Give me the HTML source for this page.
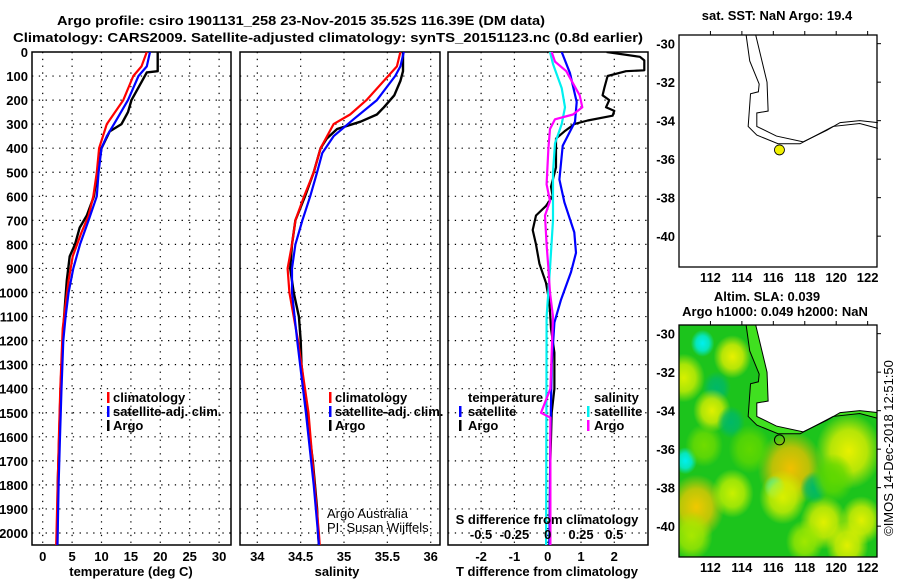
<!DOCTYPE html>
<html><head><meta charset="utf-8"><style>
html,body{margin:0;padding:0;background:#fff;}
svg{display:block;font-family:"Liberation Sans",sans-serif;}
.t{font-weight:bold;font-size:13px;fill:#000;}
</style></head><body>
<svg id="s" width="900" height="580" viewBox="0 0 900 580" xmlns="http://www.w3.org/2000/svg"></svg>
<script>
// ---------- data ----------
const depthTicks=[0,100,200,300,400,500,600,700,800,900,1000,1100,1200,1300,1400,1500,1600,1700,1800,1900,2000];
const tempTicks=[0,5,10,15,20,25,30];
const salTicks=[34,34.5,35,35.5,36];
const salTickLabels=["34","34.5","35","35.5","36"];
const tdiffTicks=[-2,-1,0,1,2];
const sdiffTicks=[-0.5,-0.25,0,0.25,0.5];
const sdiffTickLabels=["-0.5","-0.25","0","0.25","0.5"];
// temperature profiles
const tArgoDepth=[0,80,85,120,200,250,300,330,400,500,600,680,730,800,850,950,1050,1150,1200,1400,1600,1800,2000,2050];
const tArgo=[19.55,19.55,17.7,16.9,15.1,14.5,13.4,11.4,10.0,9.3,8.7,7.5,6.3,5.5,4.6,4.1,3.8,3.5,3.4,3.05,2.8,2.55,2.5,2.5];
const tClimDepth=[0,60,100,200,300,400,500,600,680,750,850,950,1050,1150,1400,1600,1800,2000,2050];
const tClim=[17.7,16.8,15.4,13.7,10.9,9.6,9.2,8.6,7.8,6.6,5.1,4.4,3.9,3.4,3.0,2.75,2.55,2.35,2.3];
const tSatDepth=[0,60,100,200,280,350,400,500,600,700,800,900,1000,1100,1200,1400,1600,1800,2000,2050];
const tSat=[18.25,17.7,16.3,14.5,12.6,10.9,10.0,9.5,9.2,7.8,6.35,5.2,4.4,3.9,3.5,3.2,2.95,2.7,2.55,2.5];
// salinity profiles
const sArgoDepth=[0,80,120,180,230,260,290,320,360,400,500,600,700,800,900,1000,1100,1200,1300,1500,1700,1900,2000,2050];
const sArgo=[35.68,35.68,35.65,35.58,35.46,35.38,35.19,34.92,34.8,34.73,34.65,34.55,34.44,34.4,34.38,34.42,34.48,34.5,34.51,34.57,34.64,34.69,34.7,34.71];
const sClimDepth=[0,60,100,200,260,300,400,500,600,700,800,900,1000,1100,1200,1500,1800,2000,2050];
const sClim=[35.65,35.61,35.51,35.26,35.07,34.88,34.73,34.65,34.54,34.44,34.4,34.35,34.37,34.42,34.47,34.59,34.66,34.71,34.72];
const sSatDepth=[0,60,100,200,280,350,420,500,600,700,800,900,1000,1100,1200,1500,1800,2000,2050];
const sSat=[35.69,35.65,35.59,35.38,35.11,34.88,34.75,34.69,34.61,34.52,34.44,34.4,34.4,34.43,34.46,34.56,34.65,34.7,34.71];
// difference profiles
const dTSatDepth=[0,88,208,290,390,530,625,750,835,915,1030,1125,1300,1600,2050];
const dTSat=[0.42,0.67,0.87,0.82,0.45,0.35,0.5,0.8,0.85,0.7,0.4,0.2,0.12,0.08,0.05];
const dTArgoDepth=[0,20,35,76,80,100,150,180,200,230,245,265,285,300,330,360,400,480,560,600,640,680,740,800,880,960,1040,1150,1250,1400,1500,1700,2050];
const dTArgo=[1.77,2.77,2.9,2.9,2.35,1.8,1.7,1.65,1.85,1.75,2.0,1.95,1.2,0.8,0.5,0.25,0.25,0.25,0.1,0.15,-0.05,-0.35,-0.45,-0.35,-0.25,-0.05,0.05,0.1,0.2,0.2,0.12,0.08,0.05];
const dSSatDepth=[0,50,150,230,300,380,500,700,900,1100,1500,2050];
const dSSat=[0.017,0.04,0.105,0.13,0.105,0.055,0.04,0.04,0.017,-0.008,-0.01,-0.012];
const dSArgoDepth=[0,40,80,140,180,230,260,280,320,400,550,620,680,800,900,1000,1100,1400,1500,1520,1600,2050];
const dSArgo=[0.03,0.055,0.14,0.2,0.24,0.26,0.19,0.055,0.017,0.005,-0.008,0.017,-0.02,-0.008,0.005,0.017,0.04,0.02,-0.05,0.02,0.02,0.02];
// map data
const mapLonTicks=[112,114,116,118,120,122];
const mapLatTicks=[-30,-32,-34,-36,-38,-40];
const coastLon=[114.88,115.6,115.67,114.95,114.95,116.2,117.9,119.4,120.25,121.5,122.65];
const coastLat=[-29.55,-32,-33.5,-33.6,-34.3,-34.8,-35.1,-34.5,-34.1,-34.0,-34.1];
const contourLon=[114.27,114.5,115.1,115.05,114.55,114.4,114.95,116.3,117.7,119.8,121.5,122.65];
const contourLat=[-29.55,-30.9,-32.1,-32.5,-32.6,-34.3,-34.75,-35.2,-35.2,-34.3,-34.15,-34.4];
const argoLon=116.39, argoLat=-35.52;
// SLA anomaly blobs (lon, lat, radius deg, colour)
const blobLon=[111.5,113.4,110.3,112.4,112.1,113.3,110.4,117.1,120.8,116.1,111.1,116.6,119.2,121.6,113.4,110.8,118.6,120.7,118.0,114.5,111.6,119.8];
const blobLat=[-30.5,-31.2,-32.3,-32.8,-34.0,-34.6,-36.6,-37.0,-36.1,-38.0,-39.0,-38.5,-39.8,-39.7,-38.3,-40.5,-38.0,-41.0,-40.8,-36.0,-35.8,-37.5];
const blobR=[0.5,0.8,0.9,0.6,0.8,0.6,0.5,1.4,1.4,0.45,1.2,1.0,1.0,0.9,0.9,0.9,0.6,0.9,0.8,0.9,0.8,0.9];
const blobCol=["#00f0f0","#e8f000","#d8f000","#00b868","#e0f000","#00b868","#00f0f0","#f0c000","#e8f000","#00f0f0","#f0c800","#d8f000","#e0f000","#e0f000","#c8f000","#a8e800","#00b868","#e0f000","#a0e800","#60d800","#70dc00","#60d800"];

// ---------- drawing ----------
const NS="http://www.w3.org/2000/svg";
const svg=document.getElementById('s');
function el(tag,attrs,parent){const e=document.createElementNS(NS,tag);for(const k in attrs)e.setAttribute(k,attrs[k]);(parent||svg).appendChild(e);return e;}
function txt(x,y,s,anchor,cls,parent,extra){const e=el('text',Object.assign({x:x,y:y,'text-anchor':anchor||'start',class:cls||'t'},extra||{}),parent);e.textContent=s;return e;}

const TOP=52, BOT=545, DPX=0.2405;
const yD=d=>TOP+d*DPX;
const xT=v=>42.7+v*5.88;
const xS=v=>257.3+(v-34)*86.7;
const xDT=v=>547.7+v*33.3;
const xDS=v=>547.7+v*133.2;

let t1=txt(57,25,"Argo profile: csiro 1901131_258 23-Nov-2015 35.52S 116.39E (DM data)",'start','t',svg,{textLength:488,lengthAdjust:'spacingAndGlyphs','font-size':15});

let t2=txt(13,42,"Climatology: CARS2009. Satellite-adjusted climatology: synTS_20151123.nc (0.8d earlier)",'start','t',svg,{textLength:630,lengthAdjust:'spacingAndGlyphs','font-size':15});


const defs=el('defs',{});
function clip(id,x,y,w,h){const c=el('clipPath',{id:id},defs);el('rect',{x:x,y:y,width:w,height:h},c);}
clip('c1',32,TOP,199,BOT-TOP);
clip('c2',240,TOP,200,BOT-TOP);
clip('c3',448,TOP,200,BOT-TOP);

function panel(name,x0,x1,xTicks,xf){
  const g=el('g',{});
  
  
  for(const d of depthTicks){ if(d===0)continue; const y=yD(d);
    el('line',{x1:x0,x2:x1,y1:y,y2:y,stroke:'#000','stroke-width':1.2,'stroke-dasharray':'1.3,5.5'},g);}
  for(const v of xTicks){const x=xf(v); if(x<=x0+1||x>=x1-1)continue;
    el('line',{x1:x,x2:x,y1:TOP,y2:BOT,stroke:'#000','stroke-width':1.2,'stroke-dasharray':'1.3,5.5'},g);}
  el('rect',{x:x0,y:TOP,width:x1-x0,height:BOT-TOP,fill:'none',stroke:'#000','stroke-width':1.5},g);
  return g;
}
function line(g,name,xs,ds,xf,col,w){
  const p=el('polyline',{points:xs.map((v,i)=>xf(v).toFixed(1)+','+yD(ds[i]).toFixed(1)).join(' '),fill:'none',stroke:col,'stroke-width':w||2.2,'stroke-linejoin':'round'},g);
  
  
}

const ya=el('g',{});


for(const d of depthTicks){txt(28,yD(d)+5,String(d),'end','t',ya);}

// panel 1
const p1=panel('temperature-panel',32,231,tempTicks,xT);
const cp1=el('g',{'clip-path':'url(#c1)'},p1);
line(cp1,'temp-argo-line',tArgo,tArgoDepth,xT,'#000',2.4);
line(cp1,'temp-climatology-line',tClim,tClimDepth,xT,'#f00');
line(cp1,'temp-satellite-line',tSat,tSatDepth,xT,'#00f');
for(const v of tempTicks){txt(xT(v),561,String(v),'middle','t',p1);}
let xl1=txt(131,576,"temperature (deg C)",'middle','t',p1);


// panel 2
const p2=panel('salinity-panel',240,440,salTicks,xS);
const cp2=el('g',{'clip-path':'url(#c2)'},p2);
line(cp2,'sal-argo-line',sArgo,sArgoDepth,xS,'#000',2.4);
line(cp2,'sal-climatology-line',sClim,sClimDepth,xS,'#f00');
line(cp2,'sal-satellite-line',sSat,sSatDepth,xS,'#00f');
salTicks.forEach((v,i)=>txt(xS(v),561,salTickLabels[i],'middle','t',p2));
let xl2=txt(337,576,"salinity",'middle','t',p2);

const cr=el('g',{});


txt(327,518,"Argo Australia",'start','t',cr,{style:'font-weight:normal'});
txt(327,532,"PI: Susan Wijffels",'start','t',cr,{style:'font-weight:normal'});

function legend(x,y,name,items){
  const g=el('g',{});
  
  
  items.forEach((it,i)=>{
    el('rect',{x:x,y:y+i*14-10,width:2.5,height:11,fill:it[1]},g);
    const t=txt(x+6,y+i*14,it[0],'start','t',g);
    
  });
}
legend(107,402,'temperature-legend',[["climatology","#f00"],["satellite-adj. clim.","#00f"],["Argo","#000"]]);
legend(329,402,'salinity-legend',[["climatology","#f00"],["satellite-adj. clim.","#00f"],["Argo","#000"]]);

// panel 3
const p3=panel('difference-panel',448,648,tdiffTicks,xDT);
const cp3=el('g',{'clip-path':'url(#c3)'},p3);
line(cp3,'tdiff-argo-line',dTArgo,dTArgoDepth,xDT,'#000',2.2);
line(cp3,'tdiff-satellite-line',dTSat,dTSatDepth,xDT,'#00f',2.2);
line(cp3,'sdiff-satellite-line',dSSat,dSSatDepth,xDS,'#00f0f0',2.2);
line(cp3,'sdiff-argo-line',dSArgo,dSArgoDepth,xDS,'#f0f',2.2);
tdiffTicks.forEach(v=>txt(xDT(v),561,String(v),'middle','t',p3));
sdiffTicks.forEach((v,i)=>txt(xDS(v),539,sdiffTickLabels[i],'middle','t',p3));
let st=txt(547,524,"S difference from climatology",'middle','t',p3);

let tt=txt(547,576,"T difference from climatology",'middle','t',p3);

const lg3=el('g',{});


txt(468,402,"temperature",'start','t',lg3);
el('rect',{x:459,y:406,width:2.5,height:11,fill:'#00f'},lg3);txt(468,416,"satellite",'start','t',lg3);
el('rect',{x:459,y:420,width:2.5,height:11,fill:'#000'},lg3);txt(468,430,"Argo",'start','t',lg3);
txt(594,402,"salinity",'start','t',lg3);
el('rect',{x:587,y:406,width:2.5,height:11,fill:'#00f0f0'},lg3);txt(594,416,"satellite",'start','t',lg3);
el('rect',{x:587,y:420,width:2.5,height:11,fill:'#f0f'},lg3);txt(594,430,"Argo",'start','t',lg3);

// ---------- maps ----------
const MX0=679,MX1=877,LON0=110.0,LPX=15.72,LATPX=19.25;
const mx=lon=>MX0+(lon-LON0)*LPX;
function mapFrame(name,top){
  const g=el('g',{});
  
  
  const my=lat=>top+(-29.55-lat)*LATPX;
  return {g,my,top,bot:top+232};
}
function mapAxes(m){
  const g=m.g;
  el('rect',{x:MX0,y:m.top,width:MX1-MX0,height:m.bot-m.top,fill:'none',stroke:'#000','stroke-width':1.3},g);
  for(const lon of mapLonTicks){const x=mx(lon);
    el('line',{x1:x,x2:x,y1:m.top-4,y2:m.top,stroke:'#000'},g);
    txt(x,m.bot+15,String(lon),'middle','t',g);}
  for(const lat of mapLatTicks){const y=m.my(lat);
    el('line',{x1:MX1,x2:MX1+4,y1:y,y2:y,stroke:'#000'},g);
    txt(675,y+5,String(lat),'end','t',g);}
}
// map 1
const m1=mapFrame('sst-location-map',35);
el('polyline',{points:coastLon.map((v,i)=>mx(v)+','+m1.my(coastLat[i])).join(' '),fill:'none',stroke:'#000','stroke-width':1},m1.g);
el('polyline',{points:contourLon.map((v,i)=>mx(v)+','+m1.my(contourLat[i])).join(' '),fill:'none',stroke:'#000','stroke-width':1},m1.g);
const dot=el('circle',{cx:mx(argoLon),cy:m1.my(argoLat),r:5,fill:'#f0f000',stroke:'#000','stroke-width':0.8},m1.g);


mapAxes(m1);
let mt1=txt(777,20,"sat. SST: NaN Argo: 19.4",'middle','t',m1.g);


// map 2
const m2=mapFrame('sla-map',325);
clip('cm2',MX0,325,MX1-MX0,232);
const hg=el('g',{'clip-path':'url(#cm2)'},m2.g);
el('rect',{x:MX0,y:325,width:MX1-MX0,height:232,fill:'#1cc41c'},hg);
blobLon.forEach((lon,i)=>{
  const gid='bg'+i;
  const rg=el('radialGradient',{id:gid},defs);
  el('stop',{offset:'0%','stop-color':blobCol[i],'stop-opacity':1},rg);
  el('stop',{offset:'55%','stop-color':blobCol[i],'stop-opacity':0.75},rg);
  el('stop',{offset:'100%','stop-color':blobCol[i],'stop-opacity':0},rg);
  const r=blobR[i]*LPX*1.5;
  const c=el('ellipse',{cx:mx(lon),cy:m2.my(blobLat[i]),rx:r,ry:r*1.15,fill:'url(#'+gid+')'},hg);
  
});
el('polygon',{points:contourLon.map((v,i)=>mx(v)+','+m2.my(contourLat[i])).join(' ')+' '+coastLon.slice().reverse().map((v,j)=>mx(v)+','+m2.my(coastLat[coastLat.length-1-j])).join(' '),fill:'#40e020'},hg);
const land=el('polygon',{points:coastLon.map((v,i)=>mx(v)+','+m2.my(coastLat[i])).join(' ')+' '+MX1+','+m2.my(-34.1)+' '+MX1+',325 '+mx(114.88)+',325',fill:'#fff'},hg);

el('polyline',{points:coastLon.map((v,i)=>mx(v)+','+m2.my(coastLat[i])).join(' '),fill:'none',stroke:'#000','stroke-width':1},hg);
el('polyline',{points:contourLon.map((v,i)=>mx(v)+','+m2.my(contourLat[i])).join(' '),fill:'none',stroke:'#000','stroke-width':1},hg);
el('circle',{cx:mx(argoLon),cy:m2.my(argoLat),r:5,fill:'none',stroke:'#000','stroke-width':1},m2.g);
mapAxes(m2);
let mt2=txt(767,301,"Altim. SLA: 0.039",'middle','t',m2.g);

let mt3=txt(775,316,"Argo h1000: 0.049 h2000: NaN",'middle','t',m2.g);

let cp=txt(0,0,"©IMOS 14-Dec-2018 12:51:50",'middle','t',svg,{transform:'translate(893,448) rotate(-90)',style:'font-weight:normal'});


</script>
</body></html>
